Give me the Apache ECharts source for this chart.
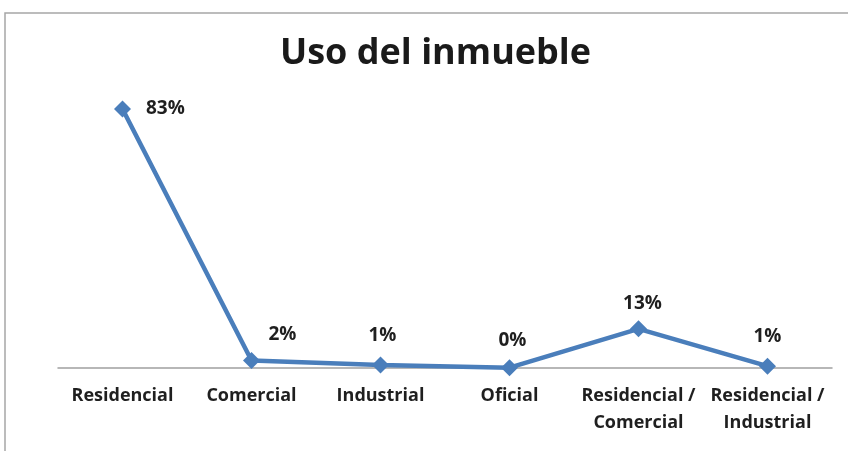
<!DOCTYPE html>
<html>
<head>
<meta charset="utf-8">
<script src="https://cdn.jsdelivr.net/npm/echarts@6/dist/echarts.min.js"></script>
<style>
  html, body { margin: 0; padding: 0; background: #fff; }
  #chart { width: 848px; height: 451px; }
</style>
</head>
<body>
<div id="chart"></div>
<script>
// 数据
var categories = ['Residencial', 'Comercial', 'Industrial', 'Oficial', 'Residencial /\nComercial', 'Residencial /\nIndustrial'];
var values = [83.3, 2.4, 1.0, 0.1, 12.6, 0.6];

(function() {
  var myChart = echarts.init(document.getElementById('chart'));
  var font = '"Open Sans", "DejaVu Sans", sans-serif';

  // 每个点的标签位置
  var labelPos = [
    { position: 'right', offset: [10, 0] },
    { position: 'top', offset: [31, -3] },
    { position: 'top', offset: [2, -6] },
    { position: 'top', offset: [3, -4] },
    { position: 'top', offset: [4, -2] },
    { position: 'top', offset: [0, -7] }
  ];
  var seriesData = values.map(function(v, i) {
    return { value: v, label: labelPos[i] };
  });

  var option = {
    animation: false,
    title: {
      text: 'Uso del inmueble',
      left: 275,
      top: 31,
      textStyle: {
        fontFamily: font,
        fontSize: 36,
        fontWeight: 'bold',
        color: '#1a1a1a'
      }
    },
    graphic: [{
      type: 'rect',
      shape: { x: 5, y: 13, width: 900, height: 500 },
      style: { fill: 'none', stroke: '#a6a6a6', lineWidth: 1.5 },
      silent: true
    }],
    grid: {
      left: 58,
      right: 16,
      top: 57,
      bottom: 83
    },
    xAxis: {
      type: 'category',
      data: categories,
      boundaryGap: true,
      axisTick: { show: false },
      axisLine: {
        lineStyle: { color: '#a0a0a0', width: 1.5 }
      },
      axisLabel: {
        interval: 0,
        margin: 14,
        color: '#1f1f1f',
        fontFamily: font,
        fontSize: 18,
        fontWeight: 'bold',
        lineHeight: 27
      }
    },
    yAxis: {
      type: 'value',
      min: 0,
      max: 100,
      show: false,
      splitLine: { show: false }
    },
    series: [{
      type: 'line',
      data: seriesData,
      symbol: 'diamond',
      symbolSize: 17,
      lineStyle: { color: '#4a7ebb', width: 4.5 },
      itemStyle: { color: '#4a7ebb' },
      label: {
        show: true,
        color: '#1f1f1f',
        fontFamily: font,
        fontSize: 19,
        fontWeight: 'bold',
        formatter: function(p) { return Math.round(p.value) + '%'; }
      }
    }]
  };

  myChart.setOption(option);
  window.addEventListener('resize', function() {
    myChart.resize();
  });
})();
</script>
</body>
</html>
